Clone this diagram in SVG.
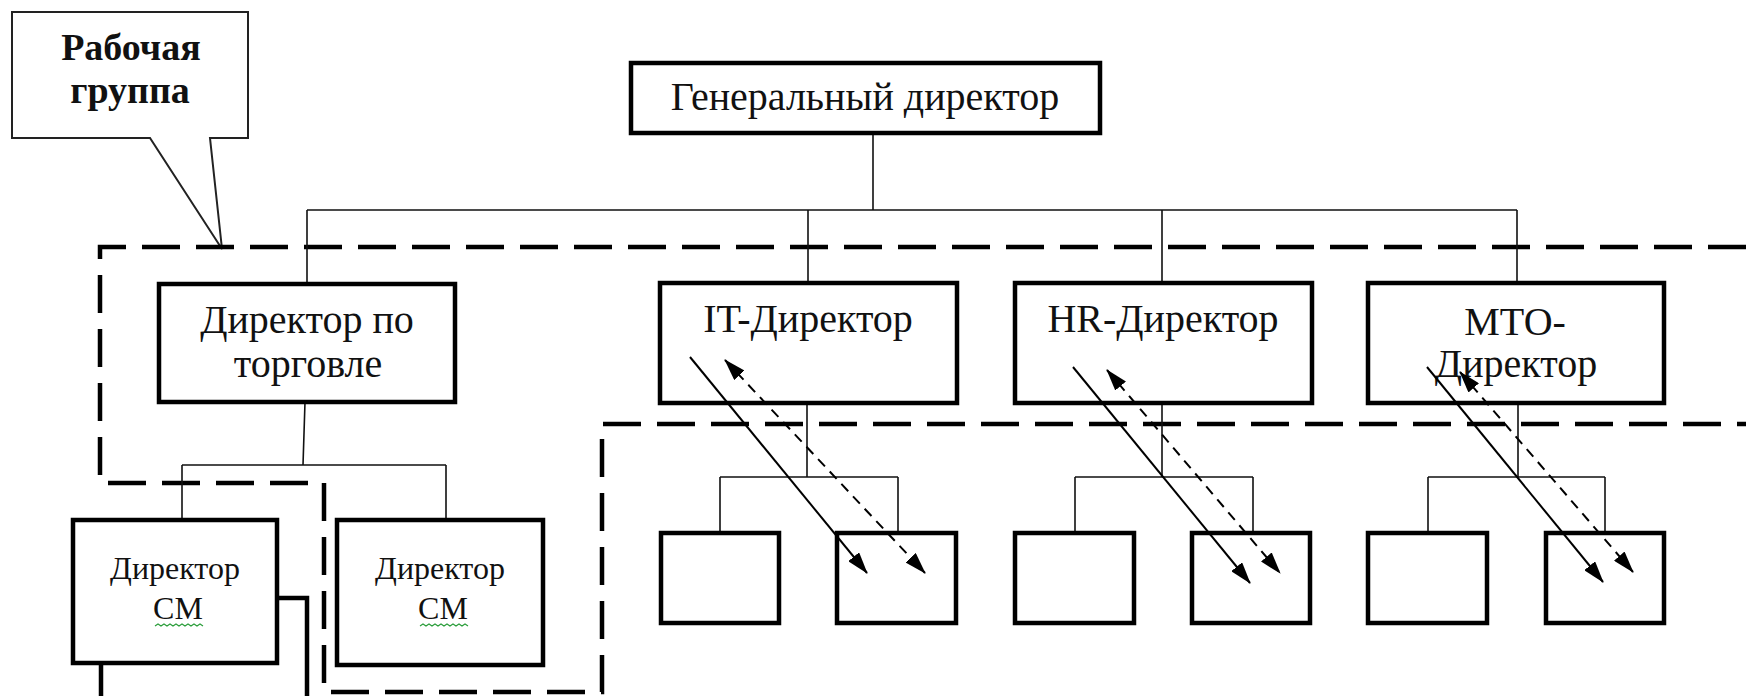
<svg xmlns="http://www.w3.org/2000/svg" width="1746" height="696" viewBox="0 0 1746 696">
<defs>
<style>
.box{fill:#fff;stroke:#000;stroke-width:4.5}
.thin{fill:none;stroke:#111;stroke-width:1.6}
.t{font-family:"Liberation Serif","Times New Roman",serif;font-size:40px;fill:#111;text-anchor:middle}
.ts{font-size:32px}
.tb{font-weight:bold;font-size:38px}
.zone{fill:none;stroke:#000;stroke-width:4.5;stroke-dasharray:38 16}
.sol{fill:none;stroke:#000;stroke-width:2;marker-end:url(#ah)}
.dsh{fill:none;stroke:#000;stroke-width:2;stroke-dasharray:10 7;marker-end:url(#ah);marker-start:url(#ah)}
.sq{fill:none;stroke:#2a9d3a;stroke-width:1.2}
</style>
<marker id="ah" markerUnits="userSpaceOnUse" markerWidth="22" markerHeight="14" refX="21" refY="7" orient="auto-start-reverse">
<path d="M0,0 L22,7 L0,14 z" fill="#000"/>
</marker>
</defs>
<rect width="1746" height="696" fill="#fff"/>

<g id="callout">
<path d="M12,12 H248 V138 H210 L222,249 L150,138 H12 Z" fill="#fff" stroke="#222" stroke-width="2"/>
<text class="t tb" x="131" y="60">Рабочая</text>
<text class="t tb" x="130" y="103">группа</text>
</g>

<g id="zone">
<path class="zone" d="M1746,247 H100 V483 H324 V692 H602 V424 H1746"/>
</g>

<g id="connectors">
<path class="thin" d="M873,133 V210 M307,210 H1517 M307,210 V284 M808,210 V283 M1162,210 V283 M1517,210 V283"/>
<path class="thin" d="M305,402 L303,465 M182,465 H446 M182,465 V554 M446,465 V552"/>
<path class="thin" d="M807,403 V477 M720,477 H898 M720,477 V545 M898,477 V545"/>
<path class="thin" d="M1162,403 V477 M1075,477 H1253 M1075,477 V545 M1253,477 V545"/>
<path class="thin" d="M1518,403 V477 M1428,477 H1605 M1428,477 V545 M1605,477 V545"/>
</g>

<g id="gen">
<rect class="box" x="631" y="63" width="469" height="70"/>
<text class="t" x="865" y="110">Генеральный директор</text>
</g>

<g id="trade">
<rect class="box" x="159" y="284" width="296" height="118"/>
<text class="t" x="307" y="333">Директор по</text>
<text class="t" x="308" y="377">торговле</text>
</g>

<g id="it">
<rect class="box" x="660" y="283" width="297" height="120"/>
<text class="t" x="808" y="332">IT-Директор</text>
</g>

<g id="hr">
<rect class="box" x="1015" y="283" width="297" height="120"/>
<text class="t" x="1163" y="332">HR-Директор</text>
</g>

<g id="mto">
<rect class="box" x="1368" y="283" width="296" height="120"/>
<text class="t" x="1515" y="335">МТО-</text>
<text class="t" x="1516" y="377">Директор</text>
</g>

<g id="cm1">
<rect class="box" x="101" y="598" width="206" height="130"/>
<rect class="box" x="73" y="520" width="204" height="143"/>
<text class="t ts" x="175" y="579">Директор</text>
<text class="t ts" x="178" y="619">СМ</text>
<path class="sq" d="M155,626 l3,-2 3,2 3,-2 3,2 3,-2 3,2 3,-2 3,2 3,-2 3,2 3,-2 3,2 3,-2 3,2 3,-2 3,2"/>
</g>

<g id="cm2">
<rect class="box" x="337" y="520" width="206" height="145"/>
<text class="t ts" x="440" y="579">Директор</text>
<text class="t ts" x="443" y="619">СМ</text>
<path class="sq" d="M420,626 l3,-2 3,2 3,-2 3,2 3,-2 3,2 3,-2 3,2 3,-2 3,2 3,-2 3,2 3,-2 3,2 3,-2 3,2"/>
</g>

<g id="it1"><rect class="box" x="661" y="533" width="118" height="90"/></g>
<g id="it2"><rect class="box" x="837" y="533" width="119" height="90"/></g>
<g id="hr1"><rect class="box" x="1015" y="533" width="119" height="90"/></g>
<g id="hr2"><rect class="box" x="1192" y="533" width="118" height="90"/></g>
<g id="mto1"><rect class="box" x="1368" y="533" width="119" height="90"/></g>
<g id="mto2"><rect class="box" x="1546" y="533" width="118" height="90"/></g>

<g id="arrows">
<path class="sol" d="M690,357 L867,573"/>
<path class="dsh" d="M725,360 L925,573"/>
<path class="sol" d="M1073,367 L1250,583"/>
<path class="dsh" d="M1107,370 L1280,573"/>
<path class="sol" d="M1427,367 L1603,582"/>
<path class="dsh" d="M1460,372 L1633,572"/>
</g>
</svg>
